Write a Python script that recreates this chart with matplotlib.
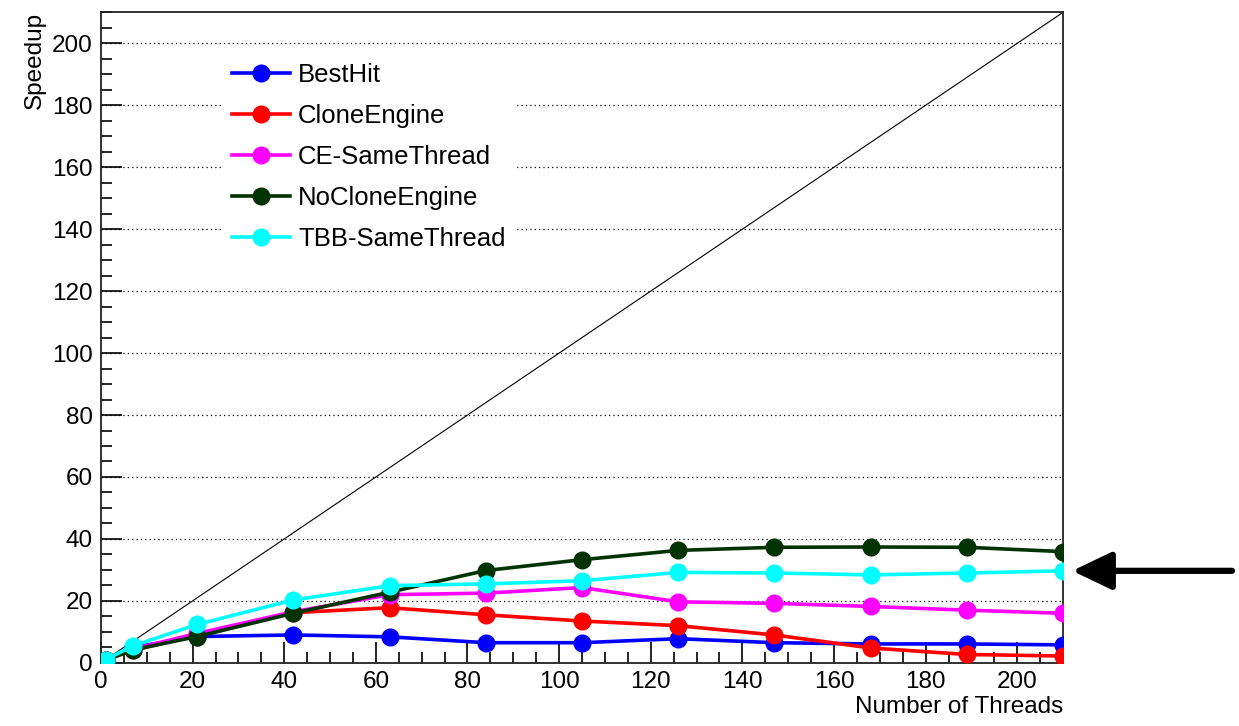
import matplotlib.pyplot as plt
import numpy as np

plt.rcParams['font.family'] = ['Liberation Sans', 'DejaVu Sans']

threads = [1, 7, 21, 42, 63, 84, 105, 126, 147, 168, 189, 210]

best_hit = [0.9, 5.0, 8.5, 9.0, 8.4, 6.5, 6.5, 7.8, 6.5, 6.1, 6.1, 5.8]
clone_engine = [1.0, 4.0, 9.0, 16.2, 17.8, 15.5, 13.5, 12.0, 9.0, 4.8, 2.7, 2.2]
ce_same_thread = [1.0, 4.5, 9.5, 16.5, 22.0, 22.5, 24.3, 19.7, 19.2, 18.2, 17.0, 16.0]
no_clone_engine = [0.8, 4.2, 8.5, 16.0, 22.8, 29.8, 33.3, 36.3, 37.3, 37.4, 37.3, 35.9]
tbb_same_thread = [1.0, 5.5, 12.4, 20.3, 24.9, 25.5, 26.5, 29.2, 29.0, 28.4, 29.0, 29.7]

labels = ['BestHit', 'CloneEngine', 'CE-SameThread', 'NoCloneEngine', 'TBB-SameThread']
colors = ['#0000ff', '#ff0000', '#ff00ff', '#003300', '#00ffff']
series = [best_hit, clone_engine, ce_same_thread, no_clone_engine, tbb_same_thread]

x_max = 210
y_max = 210

fig = plt.figure(figsize=(12.39, 7.26), dpi=100, facecolor='white')
ax = fig.add_axes([0.0815, 0.087, 0.7765, 0.896])

# ideal (linear) speedup
ax.plot([0, x_max], [0, y_max], '-', color='black', linewidth=0.8, zorder=2)

for vals, lab, col in zip(series, labels, colors):
    ax.plot(threads, vals, '-o', color=col, linewidth=2.6, markersize=13,
            markeredgewidth=0, label=lab, zorder=3)

ax.set_xlim(0, x_max)
ax.set_ylim(0, y_max)
ax.set_xticks(np.arange(0, 201, 20))
ax.set_xticks(np.arange(0, 211, 5), minor=True)
ax.set_yticks(np.arange(0, 201, 20))
ax.set_yticks(np.arange(0, 211, 5), minor=True)
ax.yaxis.grid(True, which='major', linestyle=(0, (1, 2.5)), color='black', linewidth=0.9)

ax.tick_params(which='both', direction='in', top=False, right=False,
               labelsize=17.5, colors='black', width=1.2, pad=6)
ax.tick_params(which='major', length=15)
ax.tick_params(which='minor', length=8)
for sp in ax.spines.values():
    sp.set_linewidth(1.3)
    sp.set_color('#222222')

ax.set_xlabel('Number of Threads', fontsize=17.5, loc='right', labelpad=2)
ax.set_ylabel('Speedup', fontsize=17.5, loc='top', labelpad=4)

leg = ax.legend(loc='upper left', bbox_to_anchor=(0.126, 0.9375), frameon=True,
                fontsize=18.5, handlelength=2.25, labelspacing=0.66, handletextpad=0.3,
                borderaxespad=0.0, borderpad=0.4)
leg.get_frame().set_facecolor('white')
leg.get_frame().set_edgecolor('white')
leg.get_frame().set_alpha(1.0)

# arrow pointing at the end of the TBB-SameThread curve
ax.annotate('', xy=(threads[-1] + 2, tbb_same_thread[-1]), xycoords='data',
            xytext=(1232 / 1239, tbb_same_thread[-1]), textcoords=('figure fraction', 'data'),
            arrowprops=dict(arrowstyle='-|>,head_length=2.4,head_width=1.15',
                            color='black', linewidth=4.5, shrinkA=0, shrinkB=0),
            annotation_clip=False)

fig.savefig('out.png', dpi=100, facecolor='white')
